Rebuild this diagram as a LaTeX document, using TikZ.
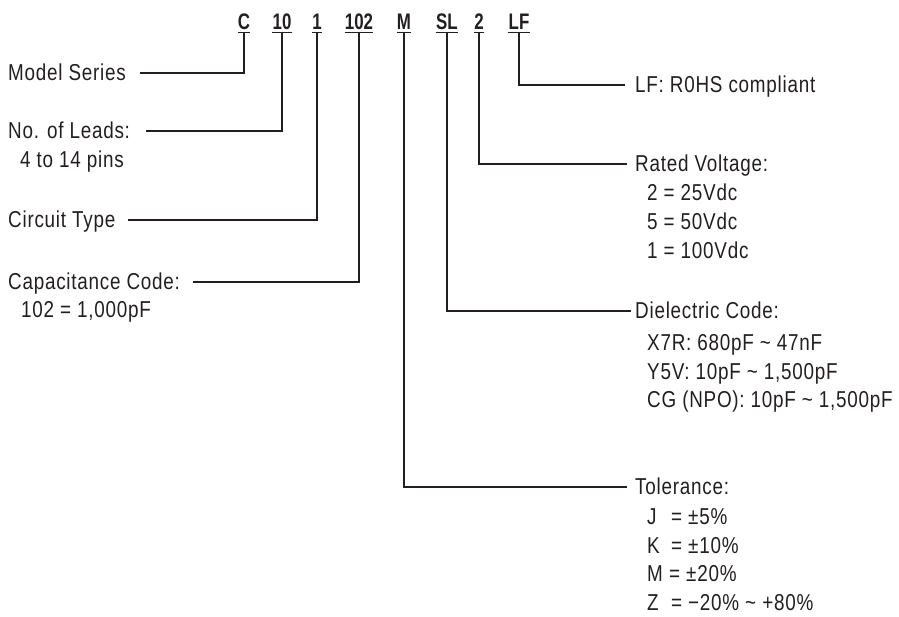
\documentclass[tikz,border=0pt]{standalone}
\usepackage{fontspec}
\setmainfont[FakeStretch=0.82,LetterSpace=3.3]{Liberation Sans}
\newfontfamily\codefont[FakeStretch=0.75]{Liberation Sans}
\definecolor{ink}{HTML}{231F20}
\begin{document}
\begin{tikzpicture}[x=1pt,y=-1pt,
  code/.style={anchor=base,inner sep=0pt,font=\codefont\bfseries\fontsize{22.5}{24}\selectfont,text=ink},
  lbl/.style={anchor=west,inner sep=0pt,text height=15.6pt,text depth=0pt,font=\fontsize{23}{26}\selectfont,text=ink},
  uline/.style={draw=ink,line width=1.6pt},
  conn/.style={draw=ink,line width=1.2pt}]
\useasboundingbox (0,0) rectangle (899,617);
% code letters
\node[code] (c1) at (244,30) {C};
\node[code] (c2) at (282,30) {10};
\node[code] (c3) at (317,30) {1};
\node[code] (c4) at (359,30) {102};
\node[code] (c5) at (404,30) {M};
\node[code] (c6) at (447,30) {SL};
\node[code] (c7) at (479,30) {2};
\node[code] (c8) at (519,30) {LF};
\foreach \c in {c1,c2,c3,c4,c5,c6,c7,c8}
  \path[uline] ([yshift=-2.6pt]\c.base west) -- ([yshift=-2.6pt]\c.base east);
% left labels
\node[lbl] (ms) at (8,73) {Model Series};
\node[lbl] (nl) at (8,131) {No. of Leads:};
\node[lbl] (nl1) at (20,160) {4 to 14 pins};
\node[lbl] (ct) at (8,220) {Circuit Type};
\node[lbl] (cc) at (8,282) {Capacitance Code:};
\node[lbl] (cc1) at (21,310) {102 = 1,000pF};
% right labels
\node[lbl] (lf) at (635,85) {LF: R0HS compliant};
\node[lbl] (rv) at (635,164) {Rated Voltage:};
\node[lbl] (rv1) at (647,193) {2 = 25Vdc};
\node[lbl] (rv2) at (647,222) {5 = 50Vdc};
\node[lbl] (rv3) at (647,251) {1 = 100Vdc};
\node[lbl] (dc) at (635,311) {Dielectric Code:};
\node[lbl] (dc1) at (647,343) {X7R: 680pF \textasciitilde\ 47nF};
\node[lbl] (dc2) at (647,372) {Y5V: 10pF \textasciitilde\ 1,500pF};
\node[lbl] (dc3) at (647,400) {CG (NPO): 10pF \textasciitilde\ 1,500pF};
\node[lbl] (tl) at (635,487) {Tolerance:};
\node[lbl] (tl1) at (647,517) {\makebox[24pt][l]{J}= ±5\%};
\node[lbl] (tl2) at (647,546) {\makebox[24pt][l]{K}= ±10\%};
\node[lbl] (tl3) at (647,574) {\makebox[22pt][l]{M}= ±20\%};
\node[lbl] (tl4) at (647,603) {\makebox[24pt][l]{Z}= −20\% \textasciitilde\ +80\%};
% connectors
\path[conn] ([yshift=-2.6pt]c1.base) |- ([xshift=14pt]ms.east);
\path[conn] ([yshift=-2.6pt]c2.base) |- ([xshift=16pt]nl.east);
\path[conn] ([yshift=-2.6pt]c3.base) |- ([xshift=12pt]ct.east);
\path[conn] ([yshift=-2.6pt]c4.base) |- ([xshift=13pt]cc.east);
\path[conn] ([yshift=-2.6pt]c5.base) |- ([xshift=-8pt]tl.west);
\path[conn] ([yshift=-2.6pt]c6.base) |- ([xshift=-4pt]dc.west);
\path[conn] ([yshift=-2.6pt]c7.base) |- ([xshift=-8pt]rv.west);
\path[conn] ([yshift=-2.6pt]c8.base) |- ([xshift=-10pt]lf.west);
\end{tikzpicture}
\end{document}
